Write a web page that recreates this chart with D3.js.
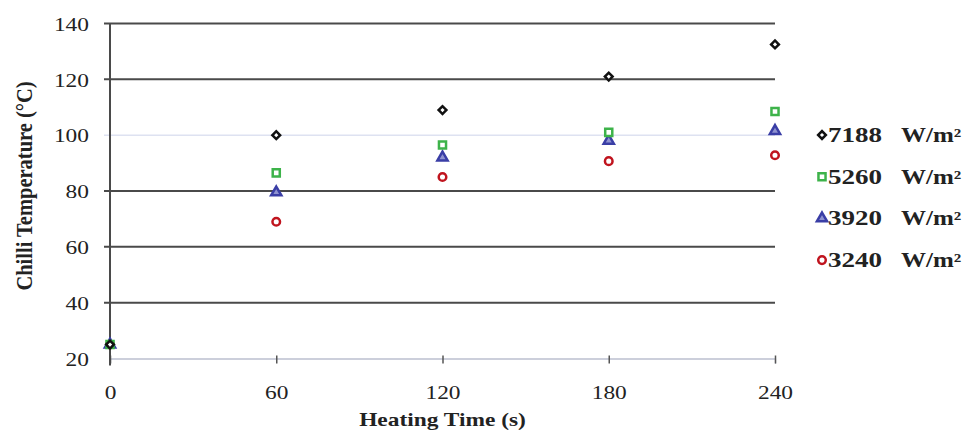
<!DOCTYPE html>
<html>
<head>
<meta charset="utf-8">
<script src="https://cdn.jsdelivr.net/npm/d3@7"></script>
<style>
  body { margin: 0; background: #fff; }
  text { font-family: "Liberation Serif", "Times New Roman", serif; }
</style>
</head>
<body>
<svg id="chart" width="967" height="434"></svg>
<script>
var times = [0, 60, 120, 180, 240];
var s7188 = [25, 100, 109, 121, 132.5];
var s5260 = [25, 86.5, 96.5, 101, 108.5];
var s3920 = [25, 79.5, 92, 98, 101.5];
var s3240 = [25, 69, 85, 90.7, 92.8];
var seriesNames = ["7188", "5260", "3920", "3240"];
var yTicks = [20, 40, 60, 80, 100, 120, 140];

var svg = d3.select("#chart"),
    margin = {top: 23.5, left: 110},
    width = 665,
    height = 335,
    stretch = 1.3; // the original text is wide, like a stretched Times

var x = d3.scaleLinear().domain([0, 240]).range([0, width]);
var y = d3.scaleLinear().domain([20, 140]).range([height, 0]);

var g = svg.append("g")
    .attr("transform", "translate(" + margin.left + "," + margin.top + ")");

// gridlines (100 is a faint line in the original)
g.selectAll(".grid")
    .data(yTicks.filter(function(d) { return d > 20; }))
  .enter().append("line")
    .attr("x1", -6).attr("x2", width)
    .attr("y1", function(d) { return y(d); })
    .attr("y2", function(d) { return y(d); })
    .attr("stroke", function(d) { return d === 100 ? "#cdd4ea" : "#4a4a4a"; })
    .attr("stroke-width", function(d) { return d === 100 ? 1 : 2; });

// x axis
var xAxis = d3.axisBottom(x).tickValues(times).tickSize(5).tickPadding(12);
g.append("g")
    .attr("transform", "translate(0," + height + ")")
    .call(xAxis)
    .call(function(a) {
        a.select(".domain").attr("stroke", "#9aa0b8").attr("stroke-width", 1.2);
        a.selectAll(".tick line").attr("stroke", "#555").attr("stroke-width", 1.5).attr("y1", -3);
        a.selectAll(".tick text")
            .attr("font-size", 18).attr("fill", "#222")
            .attr("y", 0).attr("dy", 0)
            .attr("transform", "translate(0,40) scale(" + stretch + ",1)")
            .style("font-family", "Liberation Serif");
    });

// y axis
var yAxis = d3.axisLeft(y).tickValues(yTicks).tickSize(0).tickPadding(0);
g.append("g")
    .call(yAxis)
    .call(function(a) {
        a.select(".domain").remove();
        a.selectAll(".tick text")
            .attr("font-size", 18).attr("fill", "#222")
            .attr("x", 0)
            .attr("transform", "translate(-21,1) scale(" + stretch + ",1)")
            .style("font-family", "Liberation Serif");
    });
g.append("line")
    .attr("x1", 0).attr("x2", 0)
    .attr("y1", 0).attr("y2", height + 7)
    .attr("stroke", "#4a4a4a").attr("stroke-width", 2);

// axis titles
svg.append("text")
    .attr("transform", "translate(" + (margin.left + x(120)) + ",426) scale(" + stretch + ",1)")
    .attr("text-anchor", "middle")
    .attr("font-size", 18).attr("font-weight", "bold").attr("fill", "#222")
    .text("Heating Time (s)");
svg.append("text")
    .attr("transform", "translate(32,186) rotate(-90) scale(1,1.1)")
    .attr("text-anchor", "middle")
    .attr("font-size", 20.5).attr("font-weight", "bold").attr("fill", "#222")
    .text("Chilli Temperature (°C)");

var styles = [
    {data: s7188, shape: d3.symbolSquare, size: 30, rot: 45, color: "#111", fill: "#fff", sw: 2.5},
    {data: s5260, shape: d3.symbolSquare, size: 50, rot: 0, color: "#3db34a", fill: "#fff", sw: 2.5},
    {data: s3920, shape: d3.symbolTriangle, size: 45, rot: 0, color: "#3a3ea6", fill: "#8f92d0", sw: 2.5},
    {data: s3240, shape: d3.symbolCircle, size: 45, rot: 0, color: "#c0141e", fill: "#fff", sw: 2.5}
];

// draw bottom series first so black diamonds sit on top
styles.slice().reverse().forEach(function(s) {
    g.selectAll(null)
        .data(s.data)
      .enter().append("path")
        .attr("d", d3.symbol().type(s.shape).size(s.size))
        .attr("transform", function(d, i) {
            return "translate(" + x(times[i]) + "," + y(d) + ") rotate(" + s.rot + ")";
        })
        .attr("fill", s.fill)
        .attr("stroke", s.color)
        .attr("stroke-width", s.sw);
});

// legend
var legend = svg.append("g").attr("transform", "translate(822,135)");
styles.forEach(function(s, i) {
    var row = legend.append("g").attr("transform", "translate(0," + (i * 41.7) + ")");
    row.append("path")
        .attr("d", d3.symbol().type(s.shape).size(s.size))
        .attr("transform", "rotate(" + s.rot + ")")
        .attr("fill", s.fill)
        .attr("stroke", s.color)
        .attr("stroke-width", s.sw);
    row.append("text")
        .attr("transform", "translate(6,7) scale(1.35,1)")
        .attr("font-size", 20).attr("font-weight", "bold").attr("fill", "#222")
        .text(seriesNames[i]);
    row.append("text")
        .attr("transform", "translate(79,7) scale(1.25,1)")
        .attr("font-size", 20).attr("font-weight", "bold").attr("fill", "#222")
        .text("W/m²");
});
</script>
</body>
</html>
